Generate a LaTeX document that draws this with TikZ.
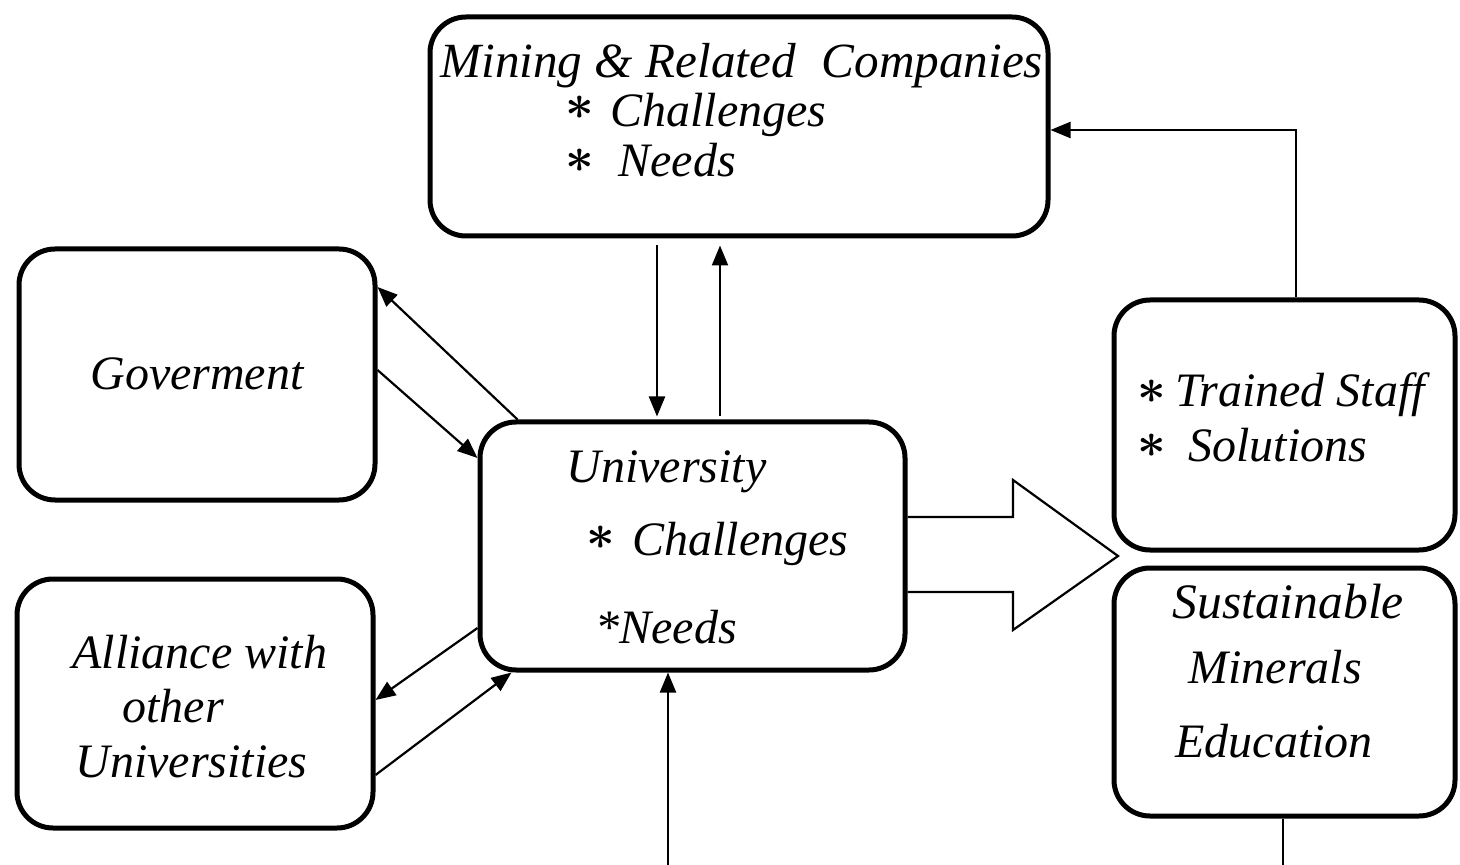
\documentclass[tikz,border=0pt]{standalone}
\usepackage{fontspec}
\setmainfont{Liberation Serif}
\usetikzlibrary{arrows.meta}
\begin{document}
\begin{tikzpicture}[x=0.5pt,y=-0.5pt,
  box/.style={draw, line width=2.5pt, rounded corners=18pt, inner sep=0pt},
  lbl/.style={font=\fontsize{24}{28}\selectfont\itshape, inner sep=0pt, anchor=base west},
  astx/.style={font=\fontsize{24}{26}\selectfont\boldmath, inner sep=0pt, text height=5pt, text depth=0pt},
  conn/.style={line width=1.1pt, -{Triangle[length=10pt,width=8pt]}},
  plainln/.style={line width=1.1pt},
  hollow/.style={line width=1.1pt, line join=miter}]
\useasboundingbox (0,0) rectangle (1460,865);

% boxes
\node[box, minimum width=309pt, minimum height=109.5pt] (mining) at (739,126.5) {};
\node[box, minimum width=178pt, minimum height=125.5pt] (gov) at (197,374.5) {};
\node[box, minimum width=178pt, minimum height=124.5pt] (alliance) at (195,703.5) {};
\node[box, minimum width=212.5pt, minimum height=124pt] (uni) at (692.5,546) {};
\node[box, minimum width=170.5pt, minimum height=125pt] (staff) at (1284.5,425) {};
\node[box, minimum width=170.5pt, minimum height=124pt] (sust) at (1284.5,692) {};

% texts
\node[lbl, font=\fontsize{24.6}{28}\selectfont\itshape] (m1) at (440,78) {Mining \& Related\; Companies};
\node[astx] (ma1) at (580,115) {$\ast$};
\node[lbl] (m2) at (610,127) {Challenges};
\node[astx] (ma2) at (580,168) {$\ast$};
\node[lbl] (m3) at (618,177) {Needs};

\node[lbl, anchor=base] (g1) at (197,390) {Goverment};

\node[lbl] (al1) at (72,668) {Alliance with};
\node[lbl] (al2) at (122,722) {other};
\node[lbl] (al3) at (75,777) {Universities};

\node[lbl] (u1) at (566,482) {University};
\node[astx] (ua1) at (601,544) {$\ast$};
\node[lbl] (u2) at (632,555) {Challenges};
\node[lbl] (u3) at (595,643) {*Needs};

\node[astx] (sa1) at (1152,399) {$\ast$};
\node[lbl] (s1) at (1175,407) {Trained Staff};
\node[astx] (sa2) at (1152,453) {$\ast$};
\node[lbl] (s2) at (1188,461) {Solutions};

\node[lbl, font=\fontsize{24.8}{28}\selectfont\itshape] (e1) at (1172,618) {Sustainable};
\node[lbl] (e2) at (1188,683) {Minerals};
\node[lbl] (e3) at (1175,757) {Education};

% helper coordinates
\coordinate (xd) at (657,245);
\coordinate (xu) at (720,245);
\coordinate (k) at (1296,130);
\coordinate (gy1) at (375,287);
\coordinate (gy2) at (375,370);
\coordinate (gy3) at (478,458);
\coordinate (ay1) at (476,628);
\coordinate (ay2) at (373,700);
\coordinate (ay3) at (375,775);
\coordinate (b) at (668,865);
\coordinate (s) at (1283,865);
\coordinate (h1) at (1013,517);
\coordinate (h2) at (1013,480);
\coordinate (h3) at (1118,556);
\coordinate (h4) at (1013,630);
\coordinate (h5) at (1013,592);

% connectors
\draw[conn, shorten <=3.5pt, shorten >=1.5pt] (mining.south -| xd) -- (uni.north -| xd);
\draw[conn, shorten <=1.5pt, shorten >=3.5pt] (uni.north -| xu) -- (mining.south -| xu);
\draw[conn] (staff.north -| k) -- (k) -- (mining.east |- k);
\draw[conn] ([xshift=20pt]uni.north west) -- (gov.east |- gy1);
\draw[conn] (gov.east |- gy2) -- (uni.west |- gy3);
\draw[conn] (uni.west |- ay1) -- (alliance.east |- ay2);
\draw[conn] (alliance.east |- ay3) -- ([xshift=17pt]uni.south west);
\draw[conn] (b) -- (uni.south -| b);
\draw[plainln] (sust.south -| s) -- (s);
\draw[hollow] (uni.east |- h1) -- (h1) -- (h2) -- (h3) -- (h4) -- (h5) -- (uni.east |- h5);
\end{tikzpicture}
\end{document}
